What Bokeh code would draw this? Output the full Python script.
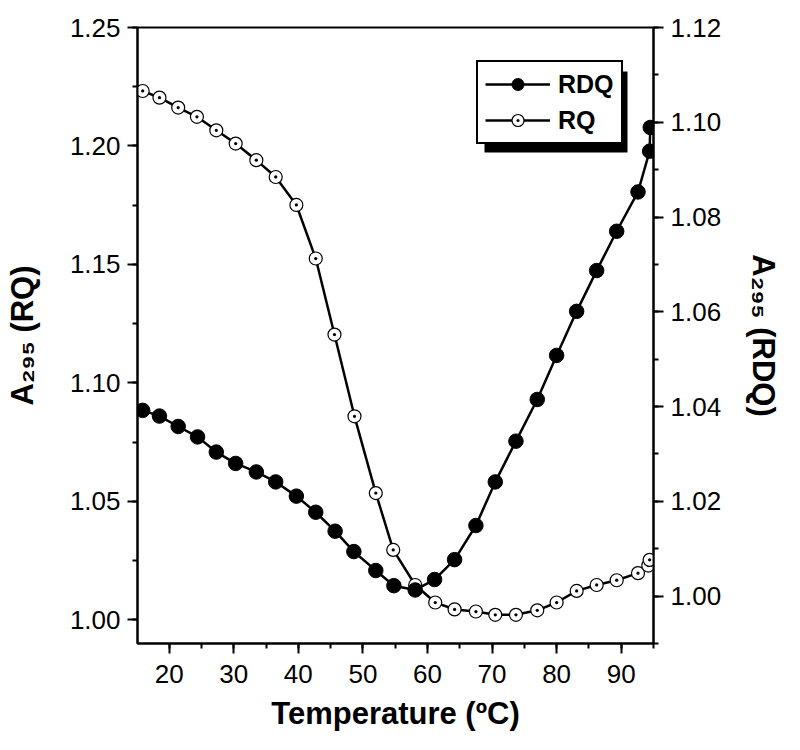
from bokeh.plotting import figure
from bokeh.models import (Range1d, LinearAxis, SingleIntervalTicker, NumeralTickFormatter,
                          Legend, LegendItem, BoxAnnotation)
from bokeh.embed import file_html
from bokeh.resources import INLINE

# ---- data ----
temp_rq = [15.9, 18.5, 21.4, 24.3, 27.3, 30.3, 33.5, 36.5, 39.7, 42.7, 45.6, 48.7, 52.0, 54.7,
           58.1, 61.2, 64.2, 67.5, 70.5, 73.7, 77.0, 80.0, 83.1, 86.2, 89.3, 92.6, 94.2, 94.4]
a295_rq = [1.2232, 1.2204, 1.2162, 1.2123, 1.2066, 1.2010, 1.1940, 1.1869, 1.1751, 1.1525,
           1.1204, 1.0859, 1.0535, 1.0295, 1.0147, 1.0073, 1.0044, 1.0035, 1.0021, 1.0021,
           1.0040, 1.0073, 1.0122, 1.0147, 1.0167, 1.0197, 1.0229, 1.0253]

temp_rdq = [15.9, 18.5, 21.4, 24.4, 27.3, 30.3, 33.5, 36.5, 39.7, 42.7, 45.7, 48.6, 52.0, 54.8,
            58.1, 61.1, 64.2, 67.5, 70.5, 73.7, 77.0, 80.0, 83.1, 86.2, 89.3, 92.6, 94.4, 94.5]
a295_rdq = [1.0392, 1.0380, 1.0358, 1.0336, 1.0304, 1.0280, 1.0262, 1.0241, 1.0211, 1.0177,
            1.0137, 1.0094, 1.0054, 1.0022, 1.0013, 1.0035, 1.0077, 1.0149, 1.0241, 1.0327,
            1.0415, 1.0508, 1.0601, 1.0687, 1.0770, 1.0853, 1.0939, 1.0989]

x_title = "Temperature (ºC)"
left_title = "A₂₉₅ (RQ)"
right_title = "A₂₉₅ (RDQ)"
series_names = ["RDQ", "RQ"]

FONT = "Liberation Sans"

p = figure(width=784, height=734, output_backend="svg", toolbar_location=None,
           x_range=Range1d(15.1, 95.0), y_range=Range1d(0.99, 1.25),
           min_border_left=137, min_border_right=127, min_border_top=27, min_border_bottom=91)
p.extra_y_ranges = {"rdq": Range1d(0.99, 1.12)}
p.xgrid.visible = False
p.ygrid.visible = False
p.outline_line_color = "black"
p.outline_line_width = 2
p.outline_line_alpha = 1.0
p.background_fill_color = "white"
p.border_fill_color = "white"

def style_axis(ax, standoff_lbl, standoff_title):
    ax.axis_line_width = 2
    ax.axis_line_color = "black"
    ax.major_tick_line_width = 2
    ax.minor_tick_line_width = 2
    ax.major_tick_out = 10
    ax.major_tick_in = 0
    ax.minor_tick_out = 5
    ax.minor_tick_in = 0
    ax.major_label_text_font = FONT
    ax.major_label_text_font_size = "26px"
    ax.major_label_text_color = "black"
    ax.major_label_standoff = standoff_lbl
    ax.axis_label_text_font = FONT
    ax.axis_label_text_font_style = "bold"
    ax.axis_label_text_font_size = "31px"
    ax.axis_label_text_color = "black"
    ax.axis_label_standoff = standoff_title

# x axis
xa = p.xaxis[0]
xa.ticker = SingleIntervalTicker(interval=10, num_minor_ticks=2)
xa.formatter = NumeralTickFormatter(format="0")
xa.axis_label = x_title
style_axis(xa, 11, 10)

# left axis (RQ)
ya = p.yaxis[0]
ya.ticker = SingleIntervalTicker(interval=0.05, num_minor_ticks=2)
ya.formatter = NumeralTickFormatter(format="0.00")
ya.axis_label = left_title
style_axis(ya, 7, 27)

# right axis (RDQ)
ra = LinearAxis(y_range_name="rdq")
ra.ticker = SingleIntervalTicker(interval=0.02, num_minor_ticks=2)
ra.formatter = NumeralTickFormatter(format="0.00")
ra.axis_label = right_title
style_axis(ra, 7, 22)
p.add_layout(ra, "right")

# lines
l_rq = p.line(temp_rq, a295_rq, line_color="black", line_width=2.5)
l_rdq = p.line(temp_rdq, a295_rdq, line_color="black", line_width=2.5, y_range_name="rdq")
# markers
s_rq = p.scatter(temp_rq, a295_rq, marker="circle_dot", size=13, fill_color="white",
                 line_color="black", line_width=1.2)
s_rdq = p.scatter(temp_rdq, a295_rdq, marker="circle", size=14.5, fill_color="black",
                  line_color="black", y_range_name="rdq")

# legend shadow then legend
shadow = BoxAnnotation(left=347, right=490, bottom=491, top=572,
                       left_units="screen", right_units="screen",
                       top_units="screen", bottom_units="screen",
                       fill_color="black", fill_alpha=1.0, line_color=None)
p.add_layout(shadow)

legend = Legend(items=[LegendItem(label=series_names[0], renderers=[l_rdq, s_rdq]),
                       LegendItem(label=series_names[1], renderers=[l_rq, s_rq])],
                location=(339, 499), margin=0, padding=7, spacing=6,
                glyph_width=65, glyph_height=30, label_standoff=8,
                label_text_font=FONT, label_text_font_style="bold",
                label_text_font_size="25px", label_text_color="black",
                border_line_color="black", border_line_width=2, border_line_alpha=1.0,
                background_fill_color="white", background_fill_alpha=1.0)
p.add_layout(legend)

open("out.html", "w").write(file_html(p, INLINE))
